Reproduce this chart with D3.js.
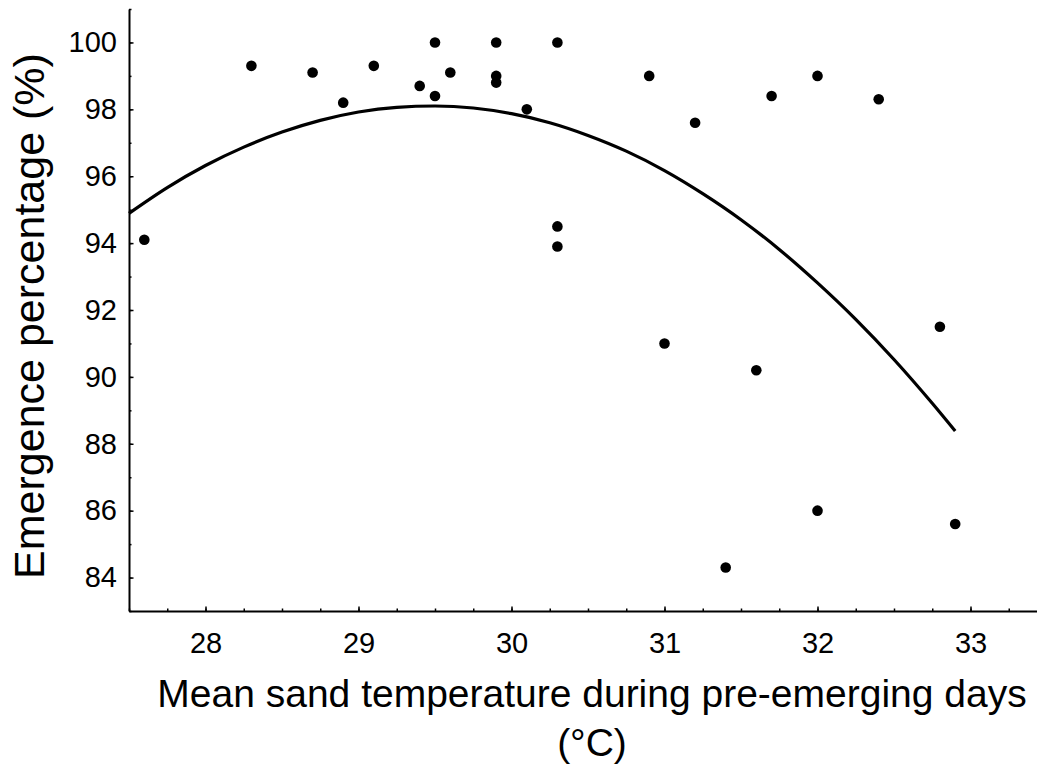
<!DOCTYPE html>
<html lang="en">
<head>
    <meta charset="UTF-8">
    <title>Emergence vs sand temperature</title>
    <script src="https://d3js.org/d3.v7.min.js"></script>
    <style>
        body {
            margin: 0;
            background: #fff;
            font-family: "Liberation Sans", Arial, sans-serif;
        }
        svg {
            display: block;
        }
        .tick text {
            font-size: 29px;
            fill: #000;
        }
        .title {
            font-size: 39px;
            fill: #000;
        }
    </style>
</head>
<body>
    <svg width="1037" height="767"></svg>

    <script>
        // Data
        const tempC = [27.6, 28.3, 28.7, 28.9, 29.1, 29.4, 29.5, 29.5, 29.6, 29.9, 29.9, 29.9,
                       30.1, 30.3, 30.3, 30.3, 30.9, 31.0, 31.2, 31.4, 31.6, 31.7, 32.0, 32.0,
                       32.4, 32.8, 32.9];
        const emergence = [94.1, 99.3, 99.1, 98.2, 99.3, 98.7, 100.0, 98.4, 99.1, 100.0, 99.0, 98.8,
                           98.0, 100.0, 94.5, 93.9, 99.0, 91.0, 97.6, 84.3, 90.2, 98.4, 99.0, 86.0,
                           98.3, 91.5, 85.6];

        // fitted curve, points
        const fitTemp = [27.5, 27.75, 28, 28.25, 28.5, 28.75, 29, 29.25, 29.5, 29.75, 30, 30.25,
                         30.5, 30.75, 31, 31.25, 31.5, 31.75, 32, 32.25, 32.5, 32.75, 32.9];
        const fitEmergence = [94.89, 95.66, 96.32, 96.87, 97.32, 97.67, 97.92, 98.06, 98.10, 98.04,
                              97.87, 97.60, 97.22, 96.75, 96.17, 95.48, 94.70, 93.81, 92.81, 91.72,
                              90.52, 89.21, 88.38];

        const xTicks = [28, 29, 30, 31, 32, 33];
        const yTicks = [84, 86, 88, 90, 92, 94, 96, 98, 100];

        const svg = d3.select("svg");

        const x = d3.scaleLinear().domain([27.5, 33.5]).range([129, 1047]);
        const y = d3.scaleLinear().domain([83, 101]).range([611, 9]);

        // minor ticks (no labels)
        svg.append("g")
            .attr("transform", "translate(0,611)")
            .call(d3.axisBottom(x).tickValues(d3.range(27.5, 33.51, 0.25)).tickSize(-2.5).tickSizeOuter(0).tickFormat(""))
            .call(g => g.select(".domain").remove())
            .call(g => g.selectAll("line").attr("stroke", "#000").attr("stroke-width", 1.5));

        svg.append("g")
            .attr("transform", "translate(129,0)")
            .call(d3.axisLeft(y).tickValues(d3.range(83, 101.1, 1)).tickSize(-2.5).tickSizeOuter(0).tickFormat(""))
            .call(g => g.select(".domain").remove())
            .call(g => g.selectAll("line").attr("stroke", "#000").attr("stroke-width", 1.5));

        // major axes
        const xAxis = svg.append("g")
            .attr("transform", "translate(0,611)")
            .call(d3.axisBottom(x).tickValues(xTicks).tickSize(-4.5).tickSizeOuter(0).tickPadding(21).tickFormat(d3.format("d")));

        const yAxis = svg.append("g")
            .attr("transform", "translate(129,0)")
            .call(d3.axisLeft(y).tickValues(yTicks).tickSize(-4.5).tickSizeOuter(0).tickPadding(12).tickFormat(d3.format("d")));

        [xAxis, yAxis].forEach(a => {
            a.attr("font-family", null).attr("font-size", null);
            a.select(".domain").attr("stroke", "#000").attr("stroke-width", 2);
            a.selectAll(".tick line").attr("stroke", "#000").attr("stroke-width", 1.5);
        });

        // fitted curve
        const line = d3.line()
            .x((d, i) => x(fitTemp[i]))
            .y(d => y(d))
            .curve(d3.curveMonotoneX);

        svg.append("path")
            .datum(fitEmergence)
            .attr("d", line)
            .attr("fill", "none")
            .attr("stroke", "#000")
            .attr("stroke-width", 3.2);

        // observations
        svg.append("g")
            .selectAll("circle")
            .data(tempC)
            .join("circle")
            .attr("cx", d => x(d))
            .attr("cy", (d, i) => y(emergence[i]))
            .attr("r", 5.3)
            .attr("fill", "#000");

        // axis titles
        svg.append("text")
            .attr("class", "title")
            .attr("text-anchor", "middle")
            .attr("x", 592)
            .attr("y", 707)
            .text("Mean sand temperature during pre-emerging days");

        svg.append("text")
            .attr("class", "title")
            .attr("text-anchor", "middle")
            .attr("x", 592)
            .attr("y", 756)
            .text("(°C)");

        svg.append("text")
            .attr("class", "title")
            .attr("text-anchor", "middle")
            .style("font-size", "43px")
            .attr("transform", "translate(44,316) rotate(-90)")
            .text("Emergence percentage (%)");
    </script>
</body>
</html>
